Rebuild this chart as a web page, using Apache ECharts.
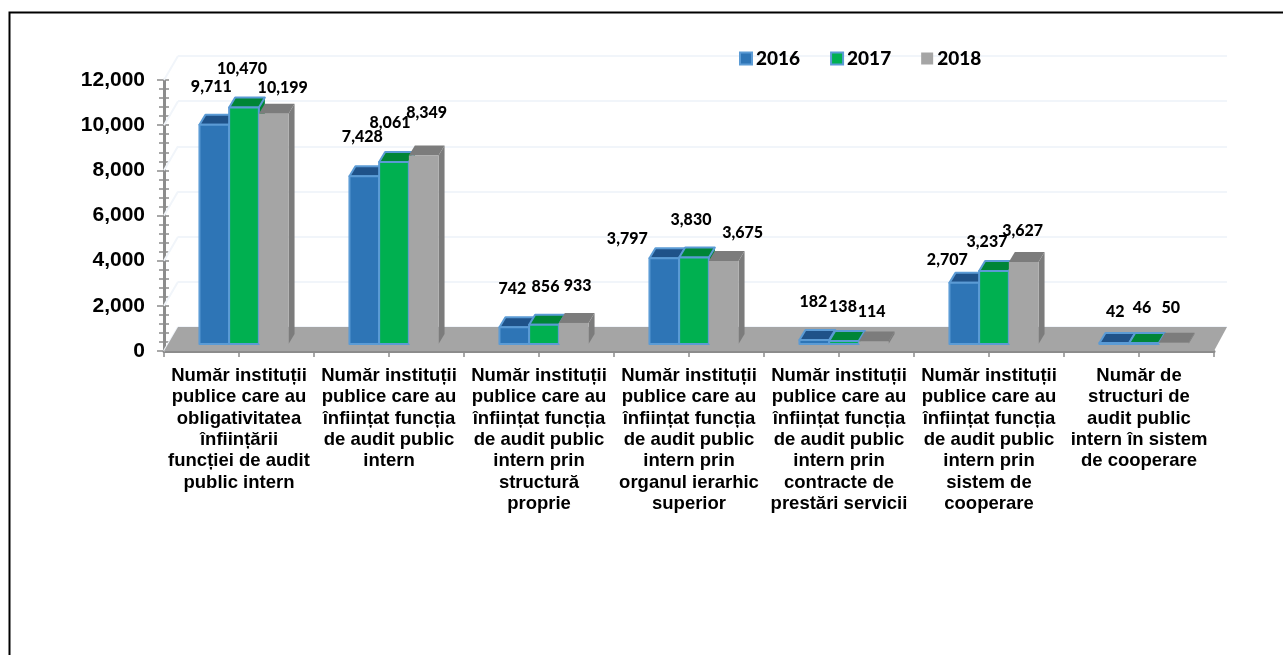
<!DOCTYPE html>
<html>
<head>
<meta charset="utf-8">
<style>html,body{margin:0;padding:0;background:#fff}#c{width:1283px;height:655px}</style>
<script src="https://cdn.jsdelivr.net/npm/echarts@6/dist/echarts.min.js"></script>
</head>
<body>
<div id="c"></div>
<script>
const categories = [
  "Număr instituții\npublice care au\nobligativitatea\nînființării\nfuncției de audit\npublic intern",
  "Număr instituții\npublice care au\nînființat funcția\nde audit public\nintern",
  "Număr instituții\npublice care au\nînființat funcția\nde audit public\nintern prin\nstructură\nproprie",
  "Număr instituții\npublice care au\nînființat funcția\nde audit public\nintern prin\norganul ierarhic\nsuperior",
  "Număr instituții\npublice care au\nînființat funcția\nde audit public\nintern prin\ncontracte de\nprestări servicii",
  "Număr instituții\npublice care au\nînființat funcția\nde audit public\nintern prin\nsistem de\ncooperare",
  "Număr de\nstructuri de\naudit public\nintern în sistem\nde cooperare"
];
const values2016 = [9711, 7428, 742, 3797, 182, 2707, 42];
const values2017 = [10470, 8061, 856, 3830, 138, 3237, 46];
const values2018 = [10199, 8349, 933, 3675, 114, 3627, 50];
const yTicks = [0, 2000, 4000, 6000, 8000, 10000, 12000];

// Hand-placed data label nudges (dx, dy from the top centre of each bar's front face)
const nudge2016 = [[-3,-38],[-2,-39],[-2,-38],[-37,-19],[-1,-38],[-17,-23],[1,-31]];
const nudge2017 = [[-2,-39],[-4,-39],[1.5,-38],[-3,-38],[-1,-34],[-7,-29],[-2,-35]];
const nudge2018 = [[9,-26],[3,-43],[4,-37],[19,-28],[-2,-30],[-1,-31],[-3,-35]];

const BLUE_EDGE = '#5b9bd5', AXIS = '#8c8c8c', WALL = '#f1f5fa';
const DEPTH_X = 6, DEPTH_Y = 10, LIFT = 7, SHIFT = 5, WIDTH_RATIO = 0.198;
const WALL_X = 14, WALL_Y = 24;

function barSeries(name, values, nudges, slot, fill, top, side, edge) {
  return {
    type: 'custom', name: name, xAxisIndex: 0, yAxisIndex: 0, z: 5 + slot, clip: false,
    itemStyle: { color: fill, borderColor: edge || fill, borderWidth: edge ? 1.5 : 0 },
    data: values.map((v, i) => [i, v]),
    renderItem: function (params, api) {
      const i = api.value(0), v = api.value(1);
      const w = api.size([1, 0])[0] * WIDTH_RATIO;
      const base = api.coord([i, 0]);
      const tp = api.coord([i, v]);
      const x0 = base[0] + SHIFT + (slot - 1.5) * w, x1 = x0 + w;
      const y0 = base[1] - LIFT, y1 = tp[1] - LIFT;
      const stroke = edge ? { stroke: edge, lineWidth: 2, lineJoin: 'round' } : {};
      const n = nudges[i];
      return {
        type: 'group',
        children: [
          { type: 'polygon', shape: { points: [[x1, y0], [x1 + DEPTH_X, y0 - DEPTH_Y], [x1 + DEPTH_X, y1 - DEPTH_Y], [x1, y1]] },
            style: { fill: side } },
          { type: 'polygon', shape: { points: [[x0, y1], [x1, y1], [x1 + DEPTH_X, y1 - DEPTH_Y], [x0 + DEPTH_X, y1 - DEPTH_Y]] },
            style: Object.assign({ fill: top }, stroke) },
          { type: 'rect', shape: { x: x0, y: y1, width: w, height: y0 - y1 },
            style: Object.assign({ fill: fill }, stroke) },
          { type: 'text', z2: 50,
            style: { text: v.toLocaleString('en-US'), x: (x0 + x1) / 2 + n[0], y: tp[1] - LIFT + n[1],
              fill: '#000', font: '900 16px Lato', align: 'center', verticalAlign: 'middle' } }
        ]
      };
    }
  };
}

const chart = echarts.init(document.getElementById('c'), null, { renderer: 'canvas' });
chart.setOption({
  animation: false,
  backgroundColor: '#fff',
  graphic: [
    { type: 'polyline', shape: { points: [[9.5, 655], [9.5, 12.5], [1283, 12.5]] }, style: { stroke: '#000', lineWidth: 2, fill: null } }
  ],
  legend: {
    left: 734, top: 44, itemWidth: 12, itemHeight: 12, itemGap: 30,
    icon: 'rect',
    data: ['2016', '2017', '2018'],
    textStyle: { color: '#000', fontWeight: 900, fontSize: 19, fontFamily: 'Lato', padding: [0, 0, 0, -1] }
  },
  grid: [
    { left: 164, top: 80, width: 1050, height: 271 },
    { left: 178, top: 56, width: 1049, height: 271 }
  ],
  xAxis: [
    { type: 'category', gridIndex: 0, data: categories, boundaryGap: true,
      axisLine: { lineStyle: { color: AXIS, width: 3 } }, axisTick: { show: false },
      axisLabel: { interval: 0, margin: 14, color: '#000', fontFamily: 'Liberation Sans', fontWeight: 'bold', fontSize: 18.5, lineHeight: 21.4, width: 150, overflow: 'none' } },
    { type: 'category', gridIndex: 0, position: 'bottom', data: Array(14).fill(''), boundaryGap: true,
      axisLine: { show: false }, axisLabel: { show: false },
      axisTick: { show: true, interval: 0, length: 6, lineStyle: { color: AXIS, width: 1.5 } } },
    { type: 'category', gridIndex: 1, data: categories, show: false }
  ],
  yAxis: [
    { type: 'value', gridIndex: 0, min: 0, max: 12000, interval: 2000,
      axisLine: { show: true, lineStyle: { color: AXIS, width: 3 } },
      axisTick: { show: true, length: 7, lineStyle: { color: AXIS, width: 1.5 } },
      minorTick: { show: true, splitNumber: 5, length: 5, lineStyle: { color: AXIS, width: 1.5 } },
      splitLine: { show: false },
      axisLabel: { margin: 19, color: '#000', fontFamily: 'Liberation Sans', fontWeight: 'bold', fontSize: 21,
        formatter: v => v.toLocaleString('en-US') } },
    { type: 'value', gridIndex: 0, position: 'left', min: 0, max: 12000, interval: 2000,
      axisLine: { show: false },
      axisTick: { show: true, inside: true, length: 5, lineStyle: { color: AXIS, width: 1.5 } },
      minorTick: { show: true, splitNumber: 5, length: 5, lineStyle: { color: AXIS, width: 1.5 } },
      splitLine: { show: false }, axisLabel: { show: false } },
    { type: 'value', gridIndex: 1, min: 0, max: 12000, interval: 2000,
      axisLine: { show: false }, axisTick: { show: false }, axisLabel: { show: false },
      splitLine: { show: true, lineStyle: { color: WALL, width: 2 } } }
  ],
  series: [
    { type: 'custom', name: 'wall', xAxisIndex: 0, yAxisIndex: 0, z: 1, clip: false, silent: true,
      data: yTicks.map(v => [0, v]),
      renderItem: function (params, api) {
        const y = api.coord([0, api.value(1)])[1];
        const x = params.coordSys.x;
        return { type: 'line', shape: { x1: x, y1: y, x2: x + WALL_X, y2: y - WALL_Y },
          style: { stroke: WALL, lineWidth: 2 } };
      } },
    { type: 'custom', name: 'floor', xAxisIndex: 0, yAxisIndex: 0, z: 2, clip: false, silent: true,
      data: [[0, 0]],
      renderItem: function (params, api) {
        const c = params.coordSys, y = api.coord([0, 0])[1];
        return { type: 'polygon', shape: { points: [[c.x, y], [c.x + WALL_X, y - WALL_Y], [c.x + c.width + WALL_X - 1, y - WALL_Y], [c.x + c.width, y]] },
          style: { fill: '#a5a5a5' } };
      } },
    barSeries('2016', values2016, nudge2016, 0, '#2e75b6', '#1f5289', '#1f5289', BLUE_EDGE),
    barSeries('2017', values2017, nudge2017, 1, '#00b050', '#008537', '#008537', BLUE_EDGE),
    barSeries('2018', values2018, nudge2018, 2, '#a5a5a5', '#7c7c7c', '#7c7c7c', null)
  ]
});
</script>
</body>
</html>
